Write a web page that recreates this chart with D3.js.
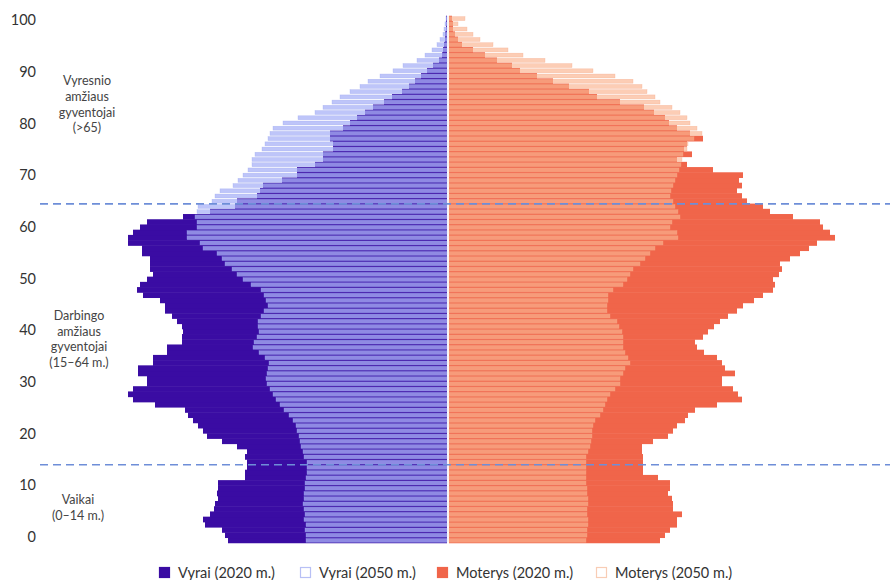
<!DOCTYPE html>
<html>
<head>
<meta charset="utf-8">
<script src="https://cdn.jsdelivr.net/npm/d3@7"></script>
<style>
  html, body { margin: 0; padding: 0; background: #fff; }
  svg { display: block; font-family: "Lato", "Open Sans", sans-serif; }
</style>
</head>
<body>
<svg id="chart" width="890" height="580"></svg>
<script>
// Ages 0..100 (categories)
const ages = d3.range(0, 101);
const tickAges = [0, 10, 20, 30, 40, 50, 60, 70, 80, 90, 100];

// Population by single year of age, thousands
const male2020 = [
  21.9,22.2,22.5,24.2,24.4,23.7,23.3,23.2,22.9,23.0,
  22.9,22.9,20.2,20.2,20.0,20.0,20.2,20.0,21.0,22.5,
  24.0,24.4,24.9,25.4,25.9,26.2,29.2,31.4,31.9,31.4,
  30.0,30.0,30.9,30.9,29.4,29.4,28.0,28.0,26.5,26.5,
  26.4,26.5,27.0,27.5,28.2,28.2,28.7,30.4,31.0,30.7,
  30.0,29.4,29.7,29.7,29.7,30.5,30.5,31.9,31.9,31.4,
  30.7,30.0,26.4,23.7,21.2,21.0,19.0,18.7,18.4,16.5,
  15.0,15.0,13.2,12.4,12.4,11.4,11.4,11.7,11.7,10.4,
  9.7,9.0,8.2,7.4,6.3,5.5,4.5,3.8,3.2,2.6,
  2.0,1.4,0.8,0.5,0.4,0.3,0.2,0.2,0.1,0.1,
  0.1
];
const male2050 = [
  14.1,14.1,14.2,14.1,14.3,14.2,14.3,14.4,14.3,14.3,
  14.2,14.2,14.1,14.0,14.0,14.0,14.3,14.4,14.6,14.7,
  14.8,15.0,15.1,15.4,15.8,16.3,16.7,17.1,17.4,17.7,
  18.0,18.1,18.0,17.9,17.8,18.2,18.8,19.4,19.3,19.0,
  18.8,18.9,18.9,18.6,18.3,17.9,18.1,18.3,18.6,19.6,
  20.4,21.0,21.5,22.2,22.5,23.0,24.4,24.7,26.0,26.0,
  25.0,25.0,25.2,25.0,24.9,23.5,23.2,22.7,21.4,20.9,
  20.4,19.9,19.5,19.5,19.2,18.5,18.2,17.9,17.7,17.4,
  16.4,14.9,13.2,12.4,11.5,10.7,9.7,8.7,7.9,6.7,
  5.4,4.4,3.0,2.2,1.5,1.0,0.7,0.4,0.3,0.2,
  0.1
];
const female2020 = [
  21.1,21.6,22.1,22.8,22.8,23.3,22.4,22.4,22.3,21.9,
  22.1,22.1,20.9,19.4,19.4,19.4,19.4,19.3,19.3,20.4,
  21.9,22.4,22.8,23.6,23.9,24.6,26.8,29.3,28.9,28.4,
  27.3,27.3,28.6,27.6,27.3,26.8,25.5,24.8,24.6,25.4,
  25.9,26.5,27.1,27.9,28.8,29.4,30.5,31.4,32.4,32.6,
  32.4,33.0,33.3,33.1,34.1,35.1,36.0,36.8,38.6,38.1,
  37.4,37.1,34.4,32.1,31.4,29.8,29.3,28.8,29.3,29.0,
  29.4,26.4,23.8,22.8,24.3,23.5,23.8,25.4,24.1,22.8,
  22.0,21.6,20.5,19.5,17.1,14.8,14.0,12.0,10.4,8.8,
  7.1,6.3,4.8,3.6,2.4,1.3,0.9,0.6,0.4,0.4,
  0.3
];
const female2050 = [
  13.7,13.8,13.8,13.9,13.9,13.8,13.8,13.9,13.9,13.8,
  13.8,13.7,13.7,13.7,13.7,13.7,13.7,13.9,14.1,14.2,
  14.3,14.3,14.4,14.6,15.1,15.4,15.6,15.8,16.1,16.6,
  17.1,17.1,17.4,17.6,18.1,17.9,17.6,17.4,17.4,17.4,
  17.3,17.0,16.8,16.1,15.8,15.8,15.9,15.9,16.4,17.4,
  17.8,18.1,18.4,19.1,19.6,20.1,20.6,21.4,22.9,22.8,
  22.1,22.3,23.1,22.9,22.6,22.4,22.1,22.2,22.4,22.6,
  22.8,23.0,23.2,23.3,23.4,23.8,23.9,24.5,25.3,24.8,
  24.1,23.8,23.1,22.3,21.1,20.6,19.8,19.3,18.4,16.6,
  14.4,12.3,9.6,7.4,5.9,4.4,3.1,2.4,1.8,0.9,
  1.6
];

const groupLabels = [
  { age: 83.6, lines: ["Vyresnio", "amžiaus", "gyventojai", "(>65)"], cx: 87 },
  { age: 38.2, lines: ["Darbingo", "amžiaus", "gyventojai", "(15–64 m.)"], cx: 79 },
  { age: 5.6,  lines: ["Vaikai", "(0–14 m.)"], cx: 78 }
];
const groupBreaks = [65, 15];

const legendItems = [
  { label: "Vyrai (2020 m.)",   key: "m20" },
  { label: "Vyrai (2050 m.)",   key: "m50" },
  { label: "Moterys (2020 m.)", key: "f20" },
  { label: "Moterys (2050 m.)", key: "f50" }
];

const colors = {
  m20: "#3a0ca3",
  m50: "#a9b3f7",
  m50stroke: "#9aa5f0",
  f20: "#f0654a",
  f50: "#fab592",
  f50stroke: "#f7a987",
  dash: "#6e8ed8",
  text: "#333333"
};

const svg = d3.select("#chart");
const cx = 447, gap = 2;

const y = d3.scaleBand().domain(ages).range([543, 16]).paddingInner(0).paddingOuter(0);
const bw = y.bandwidth();
const yLab = d3.scaleLinear().domain([0, 100]).range([537, 20]);
const x = d3.scaleLinear().domain([0, 45]).range([0, 450]);

const gBars = svg.append("g");

// 2020 solid bars
gBars.selectAll("rect.m20").data(ages).join("rect")
  .attr("class", "m20")
  .attr("x", d => cx - x(male2020[d]))
  .attr("y", d => y(d) - 0.25)
  .attr("width", d => x(male2020[d]))
  .attr("height", bw + 0.5)
  .attr("fill", colors.m20);

gBars.selectAll("rect.f20").data(ages).join("rect")
  .attr("class", "f20")
  .attr("x", cx + gap)
  .attr("y", d => y(d) - 0.25)
  .attr("width", d => x(female2020[d]))
  .attr("height", bw + 0.5)
  .attr("fill", colors.f20);

// 2050 translucent striped bars
const pad = 0.65;
gBars.selectAll("rect.m50").data(ages).join("rect")
  .attr("class", "m50")
  .attr("x", d => cx - x(male2050[d]))
  .attr("y", d => y(d) + pad)
  .attr("width", d => x(male2050[d]))
  .attr("height", bw - 2 * pad)
  .attr("fill", colors.m50)
  .attr("fill-opacity", 0.76)
  .attr("stroke", colors.m50stroke)
  .attr("stroke-opacity", 0.6)
  .attr("stroke-width", 0.5);

gBars.selectAll("rect.f50").data(ages).join("rect")
  .attr("class", "f50")
  .attr("x", cx + gap)
  .attr("y", d => y(d) + pad)
  .attr("width", d => x(female2050[d]))
  .attr("height", bw - 2 * pad)
  .attr("fill", colors.f50)
  .attr("fill-opacity", 0.68)
  .attr("stroke", colors.f50stroke)
  .attr("stroke-opacity", 0.6)
  .attr("stroke-width", 0.5);

// dashed group separators
svg.append("g").selectAll("line").data(groupBreaks).join("line")
  .attr("x1", 40).attr("x2", 890)
  .attr("y1", d => y(d - 1)).attr("y2", d => y(d - 1))
  .attr("stroke", colors.dash)
  .attr("stroke-width", 1.6)
  .attr("stroke-dasharray", "8,5");

// y axis labels
const yAxis = d3.axisLeft(yLab).tickValues(tickAges).tickSize(0).tickPadding(0);
const gAxis = svg.append("g").attr("transform", "translate(36,0)").call(yAxis);
gAxis.select(".domain").remove();
gAxis.selectAll("text")
  .attr("font-size", 14.5)
  .attr("fill", colors.text)
  .style("font-family", "Lato, sans-serif");

// group annotations
const lineH = 15.8;
groupLabels.forEach(g => {
  const n = g.lines.length;
  const yc = yLab(g.age);
  const t = svg.append("text")
    .attr("x", g.cx)
    .attr("text-anchor", "middle")
    .attr("font-size", 12.5)
    .attr("fill", "#444");
  g.lines.forEach((ln, i) => {
    t.append("tspan")
      .attr("x", g.cx)
      .attr("y", yc + (i - (n - 1) / 2) * lineH + 4)
      .text(ln);
  });
});

// legend
const legX = [159, 300, 437, 596];
const legY = 573;
const gLeg = svg.append("g");
legendItems.forEach((it, i) => {
  const g = gLeg.append("g").attr("transform", `translate(${legX[i]},${legY})`);
  const filled = it.key.endsWith("20");
  g.append("rect")
    .attr("x", 0.5).attr("y", -5.5)
    .attr("width", 10).attr("height", 10)
    .attr("fill", filled ? colors[it.key] : "#fff")
    .attr("stroke", filled ? colors[it.key] : (it.key === "m50" ? "#b8c0f5" : "#f8cdb5"))
    .attr("stroke-width", 1.2);
  g.append("text")
    .attr("x", 19).attr("y", 0).attr("dy", "0.35em")
    .attr("font-size", 14.5)
    .attr("fill", colors.text)
    .text(it.label);
});
</script>
</body>
</html>
